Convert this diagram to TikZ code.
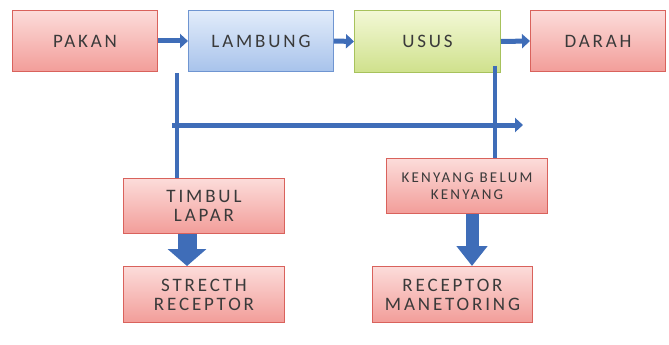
\documentclass[tikz,border=0pt]{standalone}
\usepackage{fontspec}
\setmainfont{Carlito}[LetterSpace=15]
\usetikzlibrary{arrows.meta,calc}
\definecolor{redtop}{HTML}{FCDCDA}
\definecolor{redbot}{HTML}{F29D99}
\definecolor{redline}{HTML}{D9625C}
\definecolor{bluetop}{HTML}{E2ECFA}
\definecolor{bluebot}{HTML}{A8C3EB}
\definecolor{blueline}{HTML}{6F95D1}
\definecolor{greentop}{HTML}{F3F8D6}
\definecolor{greenbot}{HTML}{CFE18C}
\definecolor{greenline}{HTML}{A7C25C}
\definecolor{arrowblue}{HTML}{3F6DB8}
\definecolor{txt}{HTML}{3A3A3A}
\tikzset{
  box/.style={draw, line width=1pt, minimum height=56pt, inner sep=0pt,
    text=txt, align=center, font=\fontsize{19}{19}\selectfont, anchor=north west},
  redbox/.style={box, top color=redtop, bottom color=redbot, draw=redline},
  bluebox/.style={box, top color=bluetop, bottom color=bluebot, draw=blueline},
  greenbox/.style={box, top color=greentop, bottom color=greenbot, draw=greenline},
  flow/.style={draw=arrowblue, line width=5pt, -{Triangle[length=8pt,width=14pt]}},
  wire/.style={draw=arrowblue, line width=4.5pt},
}
\begin{document}
\begin{tikzpicture}[x=1pt,y=-1pt]
\useasboundingbox (0,0) rectangle (669,345);
\node[redbox, minimum width=145pt, minimum height=61pt] (pakan) at (12,10) {PAKAN};
\node[bluebox, minimum width=145pt, minimum height=61pt] (lambung) at (188,10) {LAMBUNG};
\node[greenbox, minimum width=146pt, minimum height=62pt] (usus) at (354,10) {USUS};
\node[redbox, minimum width=135pt, minimum height=61pt] (darah) at (530,10) {DARAH};
\node[redbox, minimum width=161pt, minimum height=55pt] (timbul) at (123,178) {TIMBUL\\LAPAR};
\node[redbox, minimum width=161pt, minimum height=55pt, font=\fontsize{15}{17}\selectfont] (kenyang) at (386,158) {KENYANG BELUM\\KENYANG};
\node[redbox, minimum width=161pt, minimum height=56pt] (stretch) at (123,266) {STRECTH\\RECEPTOR};
\node[redbox, minimum width=160pt, minimum height=56pt] (manet) at (372,266) {RECEPTOR\\MANETORING};
% top flow arrows
\draw[flow] (pakan.east) -- (lambung.west);
\draw[flow] (lambung.east) -- (usus.west);
\draw[flow] (usus.east) -- (darah.west);
% wires
\coordinate (lstart) at (177,73);
\coordinate (hstart) at (172,125);
\coordinate (hend) at (523,125);
\draw[wire] (lstart) -- (lstart |- timbul.north);
\draw[flow] (hstart) -- (hend);
\coordinate (ustart) at (495,66);
\draw[wire] (ustart) -- (ustart |- kenyang.north);
% block arrows
\coordinate (b1) at (187,0);
\draw[draw=arrowblue, line width=19pt, -{Triangle[length=17pt,width=38pt]}] (b1 |- timbul.south) -- (b1 |- stretch.north);
\coordinate (b2) at (472,0);
\draw[draw=arrowblue, line width=13pt, -{Triangle[length=20pt,width=30pt]}] (b2 |- kenyang.south) -- (b2 |- manet.north);
\end{tikzpicture}
\end{document}
